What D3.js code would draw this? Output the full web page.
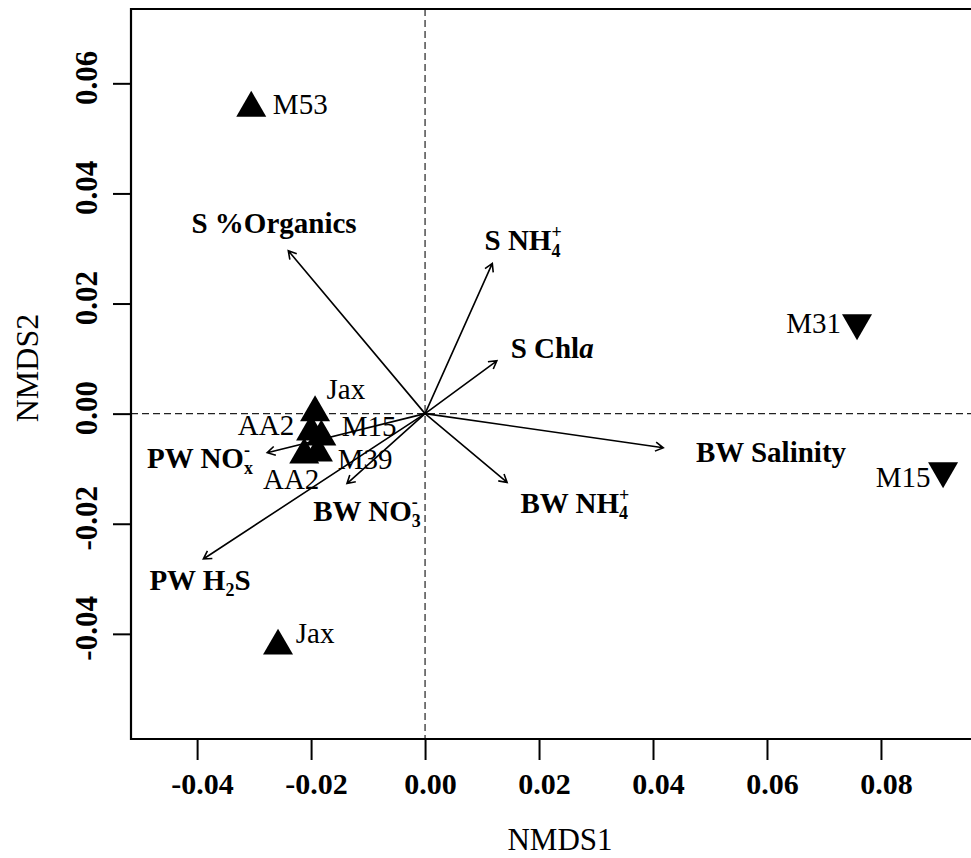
<!DOCTYPE html>
<html lang="en">
<head>
    <meta charset="utf-8">
    <title>NMDS ordination</title>
    <script src="https://d3js.org/d3.v7.min.js"></script>
    <style type="text/css">
        body { margin: 0; background: white; }
        text { font-family: "Liberation Serif", "DejaVu Serif", serif; fill: black; }
        .tick line { stroke: black; stroke-width: 2px; }
        .zero { stroke: #222; stroke-width: 1.2px; stroke-dasharray: 7,4; }
        .vec { stroke: black; stroke-width: 1.6px; fill: none; }
    </style>
</head>
<body>
<script type="text/javascript">

const w = 971; // Width
const h = 858; // Height

// tick values
const xTicks = [-0.04, -0.02, 0, 0.02, 0.04, 0.06, 0.08];
const yTicks = [-0.04, -0.02, 0, 0.02, 0.04, 0.06];

// sites (site scores), up = triangle, down = inverted triangle
const siteNames = ["M53", "Jax", "Jax", "AA2", "M15", "M39", "AA2", "M31", "M15"];
const siteX = [-0.0305, -0.0258, -0.0193, -0.0200, -0.0182, -0.0188, -0.0212, 0.0758, 0.0909];
const siteY = [0.0555, -0.0422, 0.0002, -0.0033, -0.0042, -0.0071, -0.0075, 0.0165, -0.0104];
const siteGroup = ["up", "up", "up", "up", "up", "up", "up", "down", "down"];
const siteLabelX = [-0.0219, -0.0193, -0.0139, -0.0279, -0.0098, -0.0105, -0.0235, 0.0682, 0.0839];
const siteLabelY = [0.0562, -0.0398, 0.0045, -0.0020, -0.0022, -0.0082, -0.0118, 0.0165, -0.0116];

// environmental vectors ( _ = subscript, ^ = superscript, * = italic )
const vecNames = ["S %Organics", "S NH_4^+", "S Chl*a", "BW Salinity", "BW NH_4^+", "BW NO_3^-", "PW NO_x^-", "PW H_2S"];
const vecX = [-0.0240, 0.0118, 0.0126, 0.0418, 0.0144, -0.0137, -0.0277, -0.0389];
const vecY = [0.0296, 0.0273, 0.0096, -0.0062, -0.0125, -0.0127, -0.0071, -0.0264];
const vecLabelX = [-0.0265, 0.0172, 0.0223, 0.0607, 0.0263, -0.0102, -0.0395, -0.0395];
const vecLabelY = [0.0347, 0.0315, 0.0120, -0.0069, -0.0162, -0.0176, -0.0080, -0.0302];

const plotLeft = 131, plotTop = 9, plotBottom = 739;

const xScale = d3.scaleLinear()
    .domain([-0.0516, 0.0958])
    .range([plotLeft, w]);

const yScale = d3.scaleLinear()
    .domain([-0.0591, 0.0735])
    .range([plotBottom, plotTop]);

const svg = d3.select("body")
    .append("svg")
    .attr("width", w)
    .attr("height", h)
    .style("background-color", "white");

// zero lines
svg.append("line").attr("class", "zero")
    .attr("x1", xScale(0)).attr("x2", xScale(0))
    .attr("y1", plotTop).attr("y2", plotBottom);
svg.append("line").attr("class", "zero")
    .attr("x1", plotLeft).attr("x2", w)
    .attr("y1", yScale(0)).attr("y2", yScale(0));

// frame (right side is cut off)
svg.append("path")
    .attr("d", `M${w},${plotTop}H${plotLeft}V${plotBottom}H${w}`)
    .attr("fill", "none")
    .attr("stroke", "black")
    .attr("stroke-width", 2.2);

// R style labels, plain hyphen for minus
const fmt = d => d3.format(".2f")(d).replace("\u2212", "-");

// Axes
const bottomAxis = d3.axisBottom(xScale)
    .tickValues(xTicks)
    .tickSize(21)
    .tickFormat(fmt);

const gx = svg.append("g")
    .attr("transform", "translate(0," + plotBottom + ")")
    .call(bottomAxis);
gx.select(".domain").remove();
gx.selectAll("text")
    .attr("y", 55).attr("dy", 0).attr("dx", 5)
    .attr("font-size", "30px")
    .attr("font-weight", "bold");

const leftAxis = d3.axisLeft(yScale)
    .tickValues(yTicks)
    .tickSize(18)
    .tickFormat(fmt);

const gy = svg.append("g")
    .attr("transform", "translate(" + plotLeft + ",0)")
    .call(leftAxis);
gy.select(".domain").remove();
gy.selectAll("text")
    .attr("transform", "rotate(-90)")
    .attr("x", 6).attr("y", -34).attr("dy", 0)
    .attr("text-anchor", "middle")
    .attr("font-size", "31px")
    .attr("font-weight", "bold");

// axis titles
svg.append("text")
    .attr("x", 560).attr("y", 850)
    .attr("text-anchor", "middle")
    .attr("font-size", "31px")
    .text("NMDS1");

svg.append("text")
    .attr("transform", "translate(38,368) rotate(-90)")
    .attr("text-anchor", "middle")
    .attr("font-size", "32px")
    .text("NMDS2");

// site points
const triSize = 390;
const sites = siteNames.map((n, i) => ({
    name: n, x: siteX[i], y: siteY[i], g: siteGroup[i], lx: siteLabelX[i], ly: siteLabelY[i]
}));

svg.selectAll(".site")
    .data(sites)
    .enter()
    .append("path")
    .attr("class", "site")
    .attr("d", d3.symbol().type(d3.symbolTriangle).size(triSize))
    .attr("transform", d => "translate(" + xScale(d.x) + "," + yScale(d.y) + ")" + (d.g === "down" ? " rotate(180)" : ""))
    .attr("fill", "black");

svg.selectAll(".siteLabel")
    .data(sites)
    .enter()
    .append("text")
    .attr("class", "siteLabel")
    .attr("x", d => xScale(d.lx))
    .attr("y", d => yScale(d.ly) + 10)
    .attr("text-anchor", "middle")
    .attr("font-size", "29px")
    .text(d => d.name);

// vectors
const vecs = vecNames.map((n, i) => ({
    name: n, x: vecX[i], y: vecY[i], lx: vecLabelX[i], ly: vecLabelY[i]
}));

const x0 = xScale(0), y0 = yScale(0);
const headLen = 9, headAng = Math.PI / 6;

svg.selectAll(".vec")
    .data(vecs)
    .enter()
    .append("path")
    .attr("class", "vec")
    .attr("d", d => {
        const x1 = xScale(d.x), y1 = yScale(d.y);
        const a = Math.atan2(y1 - y0, x1 - x0);
        const hx1 = x1 - headLen * Math.cos(a - headAng), hy1 = y1 - headLen * Math.sin(a - headAng);
        const hx2 = x1 - headLen * Math.cos(a + headAng), hy2 = y1 - headLen * Math.sin(a + headAng);
        return `M${x0},${y0}L${x1},${y1}M${hx1},${hy1}L${x1},${y1}L${hx2},${hy2}`;
    });

// label with sub/superscripts
function richLabel(t, str, size) {
    const small = size * 0.62;
    let cur = 0, lastSub = false;
    let i = 0, buf = "";
    function flush() {
        if (buf.length) {
            t.append("tspan").attr("dy", -cur).text(buf);
            cur = 0;
            buf = "";
        }
    }
    while (i < str.length) {
        const c = str[i];
        if (c === "_") {
            flush();
            const off = size * 0.22;
            t.append("tspan").attr("font-size", small + "px").attr("dy", off - cur).text(str[i + 1]);
            cur = off; lastSub = true; i += 2;
        } else if (c === "^") {
            flush();
            const off = -size * 0.42;
            const s = t.append("tspan").attr("font-size", small + "px").attr("dy", off - cur).text(str[i + 1]);
            if (lastSub) s.attr("dx", -small * 0.5);
            cur = off; lastSub = false; i += 2;
        } else if (c === "*") {
            flush();
            t.append("tspan").attr("font-style", "italic").attr("dy", -cur).text(str[i + 1]);
            cur = 0; lastSub = false; i += 2;
        } else {
            buf += c; lastSub = false; i += 1;
        }
    }
    flush();
}

vecs.forEach(d => {
    const t = svg.append("text")
        .attr("x", xScale(d.lx))
        .attr("y", yScale(d.ly) + 10)
        .attr("text-anchor", "middle")
        .attr("font-size", "29px")
        .attr("font-weight", "bold");
    richLabel(t, d.name, 29);
});

</script>
</body>
</html>
